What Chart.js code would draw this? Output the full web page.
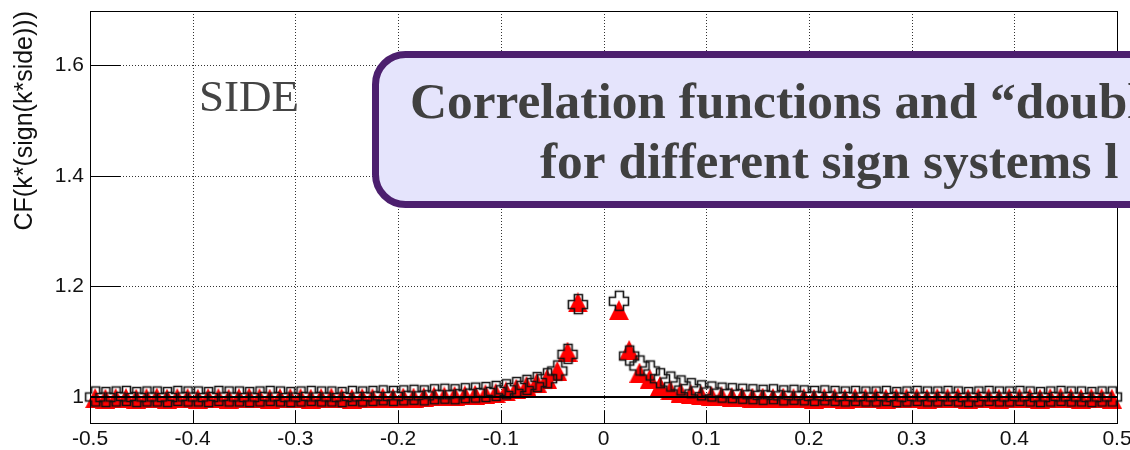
<!DOCTYPE html>
<html>
<head>
<meta charset="utf-8">
<title>CF side</title>
<script src="https://cdn.jsdelivr.net/npm/chart.js@4.4.1/dist/chart.umd.min.js"></script>
<style>
    html, body { margin: 0; padding: 0; background: #fff; }
    #cf_side_chart { display: block; }
</style>
</head>
<body>
<canvas id="cf_side_chart" width="1130" height="450"></canvas>
<script>
// k* binning: 100 bins of 0.01 from -0.5 to 0.5
var binLow = -0.5, binWidth = 0.01, nBins = 100;

// CF values per bin, open crosses (bins around zero are empty)
var cfCross = [
    1.001, 1.000, 1.001, 1.002, 1.000, 1.001, 1.001, 1.000, 1.002, 1.001,
    1.001, 1.000, 1.002, 1.001, 1.001, 1.000, 1.001, 1.002, 1.001, 1.000,
    1.001, 1.002, 1.001, 1.001, 1.000, 1.002, 1.001, 1.002, 1.003, 1.002,
    1.003, 1.004, 1.003, 1.005, 1.006, 1.005, 1.007, 1.008, 1.009, 1.011,
    1.014, 1.018, 1.022, 1.027, 1.034, 1.048, 1.078, 1.168, null, null,
    null, 1.174, 1.075, 1.057, 1.048, 1.034, 1.028, 1.021, 1.016, 1.012,
    1.010, 1.008, 1.007, 1.006, 1.005, 1.004, 1.005, 1.003, 1.004, 1.003,
    1.002, 1.003, 1.002, 1.001, 1.002, 1.001, 1.001, 1.002, 1.000, 1.001,
    1.002, 1.001, 1.001, 1.002, 1.001, 1.000, 1.001, 1.002, 1.001, 1.001,
    1.002, 1.001, 1.000, 1.001, 1.002, 1.001, 1.001, 1.000, 1.001, 1.001
];

// CF values per bin, filled triangles
var cfTriangle = [
    0.998, 0.997, 0.998, 0.998, 0.997, 0.998, 0.999, 0.997, 0.998, 0.998,
    0.997, 0.998, 0.998, 0.997, 0.998, 0.999, 0.998, 0.997, 0.998, 0.998,
    0.998, 0.997, 0.998, 0.999, 0.998, 0.997, 0.998, 0.998, 0.999, 0.998,
    0.999, 0.999, 1.000, 1.001, 1.001, 1.002, 1.003, 1.004, 1.005, 1.007,
    1.010, 1.015, 1.020, 1.026, 1.033, 1.047, 1.082, 1.171, null, null,
    null, 1.157, 1.085, 1.044, 1.033, 1.020, 1.012, 1.008, 1.005, 1.003,
    1.002, 1.001, 1.000, 1.000, 0.999, 0.999, 0.998, 0.999, 0.998, 0.998,
    0.997, 0.998, 0.998, 0.997, 0.998, 0.998, 0.999, 0.997, 0.998, 0.998,
    0.998, 0.997, 0.998, 0.998, 0.999, 0.997, 0.998, 0.998, 0.997, 0.998,
    0.998, 0.998, 0.997, 0.998, 0.999, 0.998, 0.997, 0.998, 0.998, 0.997
];

var xTicks = [-0.5, -0.4, -0.3, -0.2, -0.1, 0, 0.1, 0.2, 0.3, 0.4, 0.5];
var yTicks = [1, 1.2, 1.4, 1.6];
var yRange = [0.953, 1.698];
var refLevel = [1, 1];

var axisTitle = 'CF(k*(sign(k*side)))';
var panelLabel = 'SIDE';
var bannerLines = ['Correlation functions and \u201cdouble', 'for different sign systems l'];
var bannerFit = 'Correlation functions and \u201cdoub';

// marker images
function makeOpenCross(size, arm, color, lw) {
    var pad = 2;
    var c = document.createElement('canvas');
    c.width = c.height = size + pad * 2;
    var g = c.getContext('2d');
    var o = pad + 0.5, a = (size - arm) / 2, b = a + arm, s = size - 1;
    g.beginPath();
    g.moveTo(o + a, o); g.lineTo(o + b, o); g.lineTo(o + b, o + a);
    g.lineTo(o + s, o + a); g.lineTo(o + s, o + b); g.lineTo(o + b, o + b);
    g.lineTo(o + b, o + s); g.lineTo(o + a, o + s); g.lineTo(o + a, o + b);
    g.lineTo(o, o + b); g.lineTo(o, o + a); g.lineTo(o + a, o + a);
    g.closePath();
    g.strokeStyle = color;
    g.lineWidth = lw;
    g.stroke();
    return c;
}

function makeTriangle(w, h, color) {
    var c = document.createElement('canvas');
    c.width = w; c.height = h;
    var g = c.getContext('2d');
    g.beginPath();
    g.moveTo(0, h); g.lineTo(w, h); g.lineTo(w / 2, 0);
    g.closePath();
    g.fillStyle = color;
    g.fill();
    return c;
}

function fmtTick(v) {
    return String(Math.round(v * 10) / 10);
}

var crossPoints = [], trianglePoints = [];
for (var i = 0; i < nBins; i++) {
    var k = Math.round((binLow + binWidth * (i + 0.5)) * 1000) / 1000;
    crossPoints.push({ x: k, y: cfCross[i] });
    trianglePoints.push({ x: k, y: cfTriangle[i] });
}

var tickFont = { family: '"Liberation Sans", Arial, sans-serif', size: 21 };

// dotted grid, frame, inward tick marks
var framePlugin = {
    id: 'rootFrame',
    beforeDatasetsDraw: function (chart) {
        var ctx = chart.ctx, a = chart.chartArea;
        var xs = chart.scales.x, ys = chart.scales.y;
        ctx.save();
        ctx.strokeStyle = '#333';
        ctx.lineWidth = 1;
        ctx.setLineDash([1, 2]);
        xTicks.forEach(function (v) {
            var px = Math.round(xs.getPixelForValue(v)) + 0.5;
            ctx.beginPath(); ctx.moveTo(px, a.top); ctx.lineTo(px, a.bottom); ctx.stroke();
        });
        yTicks.forEach(function (v) {
            var py = Math.round(ys.getPixelForValue(v)) + 0.5;
            ctx.beginPath(); ctx.moveTo(a.left, py); ctx.lineTo(a.right, py); ctx.stroke();
        });
        ctx.restore();
    },
    afterDraw: function (chart) {
        var ctx = chart.ctx, a = chart.chartArea;
        var xs = chart.scales.x, ys = chart.scales.y;
        ctx.save();
        ctx.strokeStyle = '#000';
        ctx.lineWidth = 1;
        ctx.strokeRect(a.left + 0.5, a.top + 0.5, a.right - a.left, a.bottom - a.top);
        var yTickLen = 0.03 * (a.right - a.left);
        var xTickLen = 0.03 * (a.bottom - a.top);
        yTicks.forEach(function (v) {
            var py = Math.round(ys.getPixelForValue(v)) + 0.5;
            ctx.beginPath(); ctx.moveTo(a.left, py); ctx.lineTo(a.left + yTickLen, py); ctx.stroke();
        });
        xTicks.forEach(function (v) {
            var px = Math.round(xs.getPixelForValue(v)) + 0.5;
            ctx.beginPath(); ctx.moveTo(px, a.bottom); ctx.lineTo(px, a.bottom - xTickLen); ctx.stroke();
        });

        // panel label
        ctx.fillStyle = '#444';
        ctx.font = '45px "Liberation Serif", serif';
        ctx.textBaseline = 'alphabetic';
        ctx.textAlign = 'left';
        ctx.fillText(panelLabel, 199, 111);

        // slide banner
        var bx = 375.5, by = 54.5, bw = 820, bh = 150, r = 30;
        ctx.beginPath();
        ctx.moveTo(bx + r, by);
        ctx.lineTo(bx + bw - r, by);
        ctx.arcTo(bx + bw, by, bx + bw, by + r, r);
        ctx.lineTo(bx + bw, by + bh - r);
        ctx.arcTo(bx + bw, by + bh, bx + bw - r, by + bh, r);
        ctx.lineTo(bx + r, by + bh);
        ctx.arcTo(bx, by + bh, bx, by + bh - r, r);
        ctx.lineTo(bx, by + r);
        ctx.arcTo(bx, by, bx + r, by, r);
        ctx.closePath();
        ctx.fillStyle = 'rgb(229, 228, 252)';
        ctx.fill();
        ctx.lineWidth = 7;
        ctx.strokeStyle = 'rgb(76, 31, 110)';
        ctx.stroke();

        ctx.font = 'bold 50px "Liberation Serif", serif';
        var size = 50 * 718 / ctx.measureText(bannerFit).width;
        ctx.font = 'bold ' + size.toFixed(1) + 'px "Liberation Serif", serif';
        ctx.fillStyle = '#404040';
        ctx.fillText(bannerLines[0], 410, 118);
        ctx.fillText(bannerLines[1], 540, 178);
        ctx.restore();
    }
};

var ctx = document.getElementById('cf_side_chart').getContext('2d');
new Chart(ctx, {
    type: 'scatter',
    data: {
        datasets: [{
            // y = 1 reference
            data: [{ x: xTicks[0], y: refLevel[0] }, { x: xTicks[xTicks.length - 1], y: refLevel[1] }],
            showLine: true,
            borderColor: '#000',
            borderWidth: 2,
            pointRadius: 0,
            order: 0
        }, {
            data: crossPoints,
            pointStyle: makeOpenCross(20, 8, '#111', 1.6),
            pointRadius: 10,
            clip: false,
            order: 1
        }, {
            data: trianglePoints,
            pointStyle: makeTriangle(20, 20, 'rgb(255, 0, 0)'),
            pointRadius: 10,
            clip: false,
            order: 2
        }]
    },
    options: {
        responsive: false,
        animation: false,
        devicePixelRatio: 1,
        layout: { padding: { top: 7, right: 13, left: 0, bottom: 0 } },
        plugins: {
            legend: { display: false },
            tooltip: { enabled: false }
        },
        scales: {
            x: {
                type: 'linear',
                min: xTicks[0],
                max: xTicks[xTicks.length - 1],
                afterBuildTicks: function (s) { s.ticks = xTicks.map(function (v) { return { value: v }; }); },
                afterFit: function (s) { s.height = 27; s.paddingLeft = 0; s.paddingRight = 0; },
                grid: { display: false, drawTicks: false },
                border: { display: false },
                ticks: {
                    padding: 4,
                    autoSkip: false,
                    maxRotation: 0,
                    color: '#111',
                    font: tickFont,
                    callback: function (v) { return fmtTick(v); }
                }
            },
            y: {
                type: 'linear',
                min: yRange[0],
                max: yRange[1],
                afterBuildTicks: function (s) { s.ticks = yTicks.map(function (v) { return { value: v }; }); },
                afterFit: function (s) { s.width = 90; s.paddingTop = 0; s.paddingBottom = 0; },
                grid: { display: false, drawTicks: false },
                border: { display: false },
                title: {
                    display: true,
                    text: axisTitle,
                    align: 'end',
                    color: '#111',
                    font: { family: '"Liberation Sans", Arial, sans-serif', size: 25 },
                    padding: { top: 10, bottom: 0 }
                },
                ticks: {
                    padding: 6,
                    color: '#111',
                    font: tickFont,
                    callback: function (v) { return fmtTick(v); }
                }
            }
        }
    },
    plugins: [framePlugin]
});
</script>
</body>
</html>
